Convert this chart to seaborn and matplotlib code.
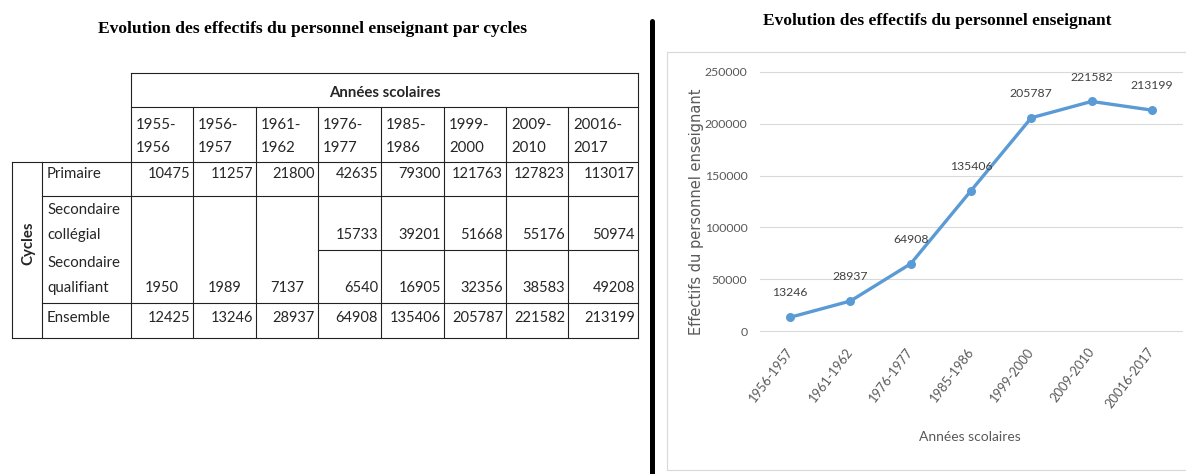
import matplotlib
matplotlib.use("Agg")
import matplotlib.pyplot as plt
import seaborn as sns
import pandas as pd
from matplotlib.patches import Rectangle

# ---------------- data ----------------
table_title = "Evolution des effectifs du personnel enseignant par cycles"
chart_title = "Evolution des effectifs du personnel enseignant"
table_years = ["1955-1956", "1956-1957", "1961-1962", "1976-1977",
               "1985-1986", "1999-2000", "2009-2010", "20016-2017"]
primaire = [10475, 11257, 21800, 42635, 79300, 121763, 127823, 113017]
sec_collegial = [None, None, None, 15733, 39201, 51668, 55176, 50974]
sec_qualifiant = [1950, 1989, 7137, 6540, 16905, 32356, 38583, 49208]
ensemble = [12425, 13246, 28937, 64908, 135406, 205787, 221582, 213199]

chart_years = ["1956-1957", "1961-1962", "1976-1977", "1985-1986",
               "1999-2000", "2009-2010", "20016-2017"]
chart_values = [13246, 28937, 64908, 135406, 205787, 221582, 213199]
y_ticks = [0, 50000, 100000, 150000, 200000, 250000]

# ---------------- style ----------------
sns.set_theme(style="white")
narrow = ["Lato", "DejaVu Sans"]
serif = ["Liberation Serif", "DejaVu Serif"]
plt.rcParams["font.family"] = narrow

W, H = 1186, 474
fig = plt.figure(figsize=(W / 100, H / 100), dpi=100)
bg = fig.add_axes([0, 0, 1, 1])
bg.set_xlim(0, W)
bg.set_ylim(H, 0)
bg.axis("off")

PX = 0.72  # one pixel in points

# ---------------- titles / decorations ----------------
bg.text(312, 29, table_title, ha="center", va="center", family=serif,
        weight="bold", fontsize=12.6, color="black")
bg.text(937, 21, chart_title, ha="center", va="center", family=serif,
        weight="bold", fontsize=12.5, color="black")
bg.plot([652, 652], [21, 476], color="black", lw=5 * PX,
        solid_capstyle="round")
bg.add_patch(Rectangle((667, 52), 540, 418, fill=False,
                       edgecolor="#D9D9D9", lw=1.2 * PX))

# ---------------- table ----------------
col_edges = [131, 193, 256, 318, 381, 444, 506, 568, 638]
lc = "#222222"
lw = 1.1 * PX


def hline(y, x0, x1):
    bg.plot([x0, x1], [y, y], color=lc, lw=lw, solid_capstyle="projecting")


def vline(x, y0, y1):
    bg.plot([x, x], [y0, y1], color=lc, lw=lw, solid_capstyle="projecting")


hline(73, 131, 638)
hline(107, 131, 638)
hline(162, 12, 638)
hline(196, 42, 638)
hline(250, col_edges[3], 638)
hline(303, 42, 638)
hline(338, 12, 638)
vline(12, 162, 338)
vline(42, 162, 338)
vline(131, 73, 338)
vline(638, 73, 338)
for x in col_edges[1:-1]:
    vline(x, 107, 338)

fs = 10.5
fl = 10.8
bg.text((131 + 638) / 2, 93, "Années scolaires", ha="center", va="center",
        weight="bold", fontsize=fl)
bg.text(28, 243, "Cycles", ha="center", va="center", rotation=90,
        weight="bold", fontsize=fl)

for i, yr in enumerate(table_years):
    a, b = yr.split("-")
    x0 = col_edges[i] + 5
    bg.text(x0, 125, a + "-", ha="left", va="center", fontsize=fl)
    bg.text(x0, 148, b, ha="left", va="center", fontsize=fl)

row_labels = [("Primaire", 174), ("Secondaire", 210), ("collégial", 235),
              ("Secondaire", 263), ("qualifiant", 288), ("Ensemble", 318)]
for lab, yy in row_labels:
    bg.text(47, yy, lab, ha="left", va="center", fontsize=fl)

for i in range(len(table_years)):
    xr = col_edges[i + 1] - 3
    xc = (col_edges[i] + col_edges[i + 1]) / 2
    bg.text(xr, 174, str(primaire[i]), ha="right", va="center", fontsize=fs)
    if sec_collegial[i] is not None:
        bg.text(xr, 235, str(sec_collegial[i]), ha="right", va="center",
                fontsize=fs)
        bg.text(xr, 288, str(sec_qualifiant[i]), ha="right", va="center",
                fontsize=fs)
    else:
        bg.text(xc, 288, str(sec_qualifiant[i]), ha="center", va="center",
                fontsize=fs)
    bg.text(xr, 318, str(ensemble[i]), ha="right", va="center", fontsize=fs)

# ---------------- chart ----------------
ax = fig.add_axes([760 / W, (H - 331) / H, 422 / W, 259 / H])
ax.set_facecolor("none")
df = pd.DataFrame({"annee": chart_years, "effectif": chart_values})
sns.lineplot(data=df, x="annee", y="effectif", ax=ax, sort=False,
             color="#5B9BD5", lw=2.4, marker="o", markersize=6.5,
             markeredgewidth=0)
ax.set_xlim(-0.5, len(chart_years) - 0.5)
ax.set_ylim(0, 250000)
ax.set_yticks(y_ticks)
ax.set_yticklabels([str(t) for t in y_ticks])
for s in ax.spines.values():
    s.set_visible(False)
ax.yaxis.grid(True, color="#D9D9D9", lw=1.1 * PX)
ax.xaxis.grid(False)
for gl in ax.get_ygridlines():
    gl.set_clip_on(False)
ax.set_axisbelow(True)

gray = "#595959"
ax.tick_params(axis="y", length=0, pad=9, labelsize=8.8, labelcolor=gray)
ax.tick_params(axis="x", length=0, pad=13, labelsize=9.3, labelcolor=gray)
for lab in ax.get_xticklabels():
    lab.set_rotation(53)
    lab.set_ha("right")
    lab.set_va("center")
    lab.set_rotation_mode("anchor")

for i, v in enumerate(chart_values):
    ax.annotate(str(v), (i, v), xytext=(0, 17.5), textcoords="offset points",
                ha="center", va="center", fontsize=8.8, color="#404040",
                annotation_clip=False)

ax.set_xlabel("")
ax.set_ylabel("")
bg.text(970, 437, "Années scolaires", ha="center", va="center",
        fontsize=10, color=gray)
bg.text(697, 212, "Effectifs du personnel enseignant", ha="center",
        va="center", rotation=90, fontsize=10.5, color=gray,
        family=["DejaVu Sans"])

fig.savefig("out.png", dpi=100)
